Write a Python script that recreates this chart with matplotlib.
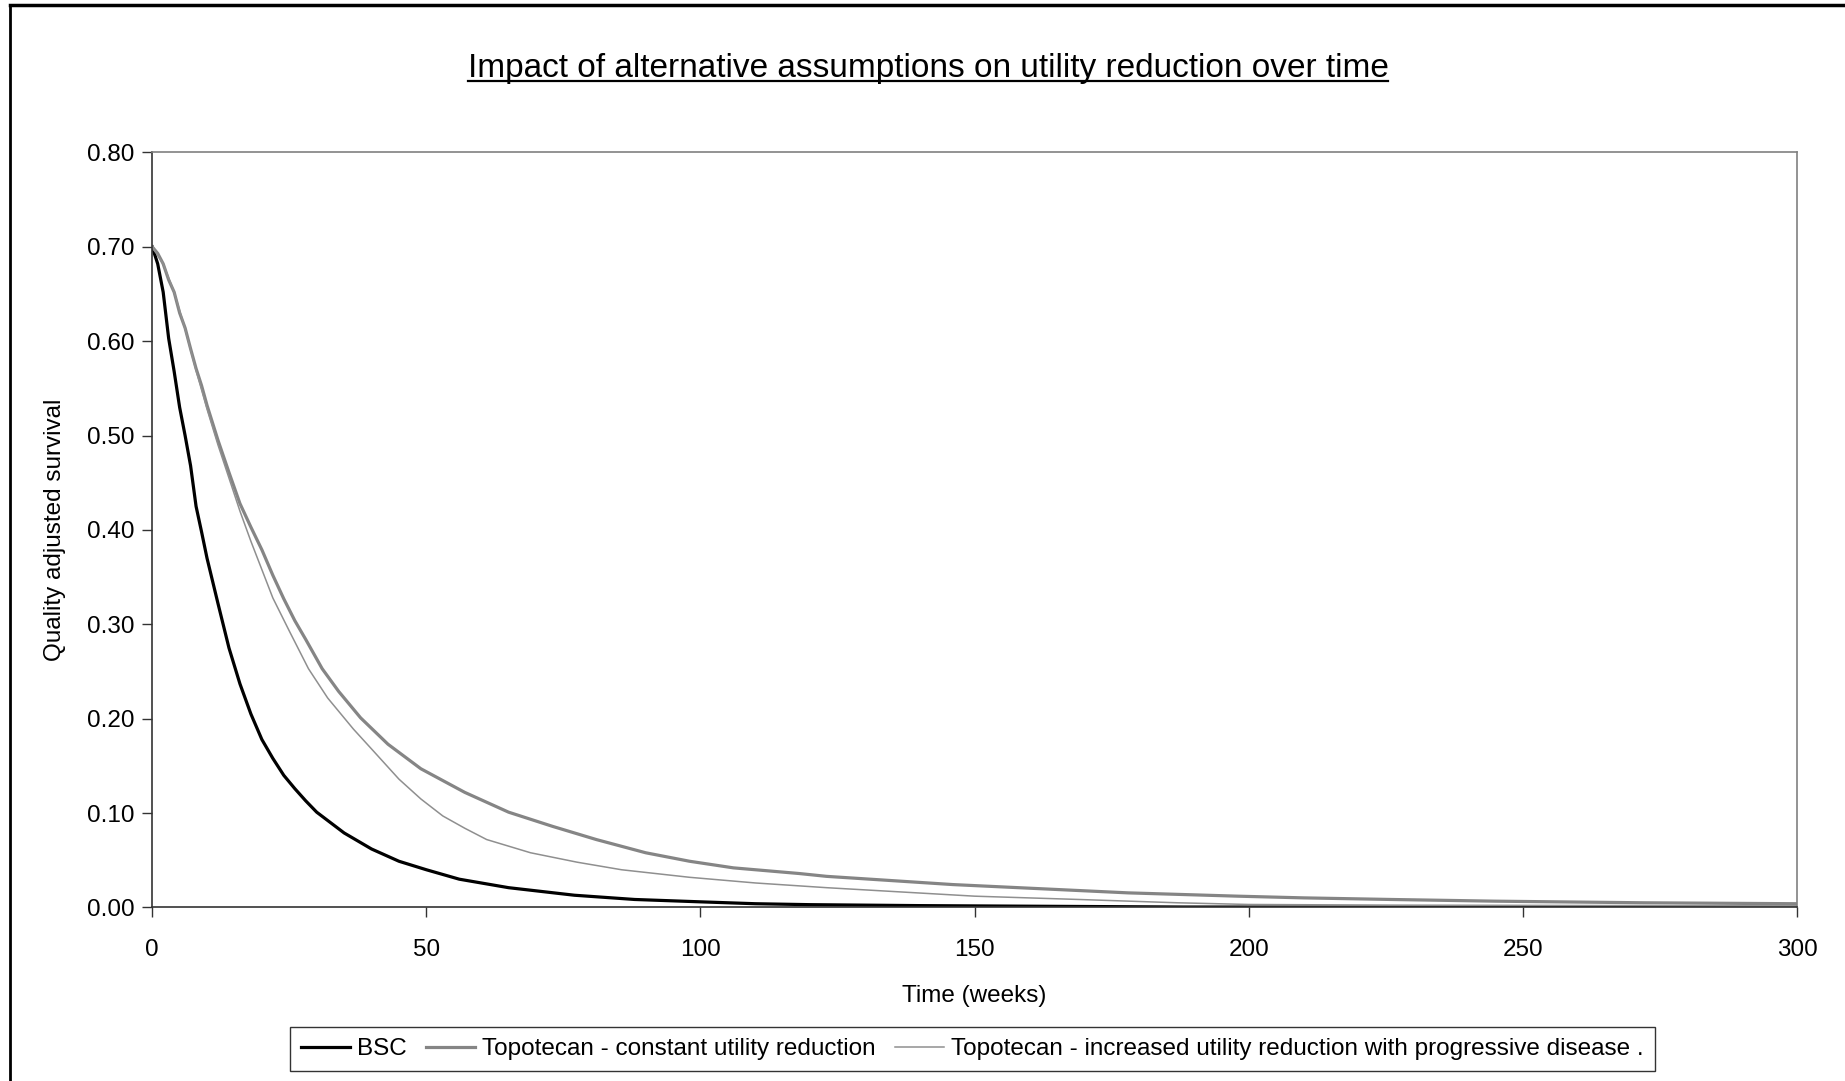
import matplotlib
matplotlib.use("Agg")
import matplotlib.pyplot as plt
from matplotlib.lines import Line2D

plt.rcParams['font.family'] = ['Liberation Sans', 'DejaVu Sans']

# quality adjusted survival by week, three scenarios
bsc_weeks = [0, 1, 2, 3, 4, 5, 6, 7, 8, 9, 10, 12, 14, 16, 18, 20, 22, 24, 26, 28, 30,
             35, 40, 45, 50, 56, 65, 77, 88, 100, 110, 120, 140, 188, 300]
bsc_qas = [0.700, 0.682, 0.652, 0.603, 0.568, 0.530, 0.500, 0.468, 0.425, 0.398, 0.370,
           0.322, 0.275, 0.237, 0.205, 0.178, 0.158, 0.140, 0.126, 0.113, 0.101,
           0.079, 0.062, 0.049, 0.040, 0.030, 0.021, 0.013, 0.0085, 0.006, 0.004,
           0.003, 0.002, 0.0005, 0.0003]

const_weeks = [0, 1, 2, 3, 4, 5, 6, 7, 8, 9, 10, 12, 14, 16, 18, 20, 22, 24, 26, 28, 31,
               34, 38, 43, 49, 57, 65, 73, 81, 90, 98, 106, 118, 123, 146, 178, 198,
               210, 226, 245, 272, 300]
const_qas = [0.700, 0.693, 0.682, 0.665, 0.652, 0.630, 0.614, 0.592, 0.571, 0.553, 0.532,
             0.495, 0.461, 0.428, 0.403, 0.379, 0.352, 0.327, 0.304, 0.284, 0.253,
             0.229, 0.201, 0.173, 0.147, 0.122, 0.101, 0.086, 0.072, 0.058, 0.049,
             0.042, 0.036, 0.033, 0.0243, 0.0155, 0.012, 0.0102, 0.0085, 0.0067,
             0.005, 0.004]

prog_weeks = [0, 2, 4, 6, 8, 10, 12, 14, 16, 18, 20, 22, 25, 28.5, 32, 36.7, 40, 45, 49,
              53, 57, 61, 69, 77.5, 85.6, 98, 110, 123, 150, 169, 187, 200, 226, 272, 300]
prog_qas = [0.700, 0.682, 0.652, 0.613, 0.569, 0.528, 0.490, 0.455, 0.420, 0.388, 0.358,
            0.328, 0.293, 0.253, 0.222, 0.189, 0.168, 0.136, 0.115, 0.097, 0.084, 0.072,
            0.058, 0.048, 0.040, 0.032, 0.026, 0.021, 0.012, 0.0085, 0.005, 0.0032,
            0.0025, 0.002, 0.001]

y_ticks = [0.0, 0.1, 0.2, 0.3, 0.4, 0.5, 0.6, 0.7, 0.8]
x_ticks = [0, 50, 100, 150, 200, 250, 300]

fig = plt.figure(figsize=(18.45, 10.81), dpi=100)
ax = fig.add_axes([0.0825, 0.1605, 0.8915, 0.6985])

ax.plot(bsc_weeks, bsc_qas, color='black', lw=2.3, label='BSC')
ax.plot(const_weeks, const_qas, color='#858585', lw=2.3,
        label='Topotecan - constant utility reduction')
ax.plot(prog_weeks, prog_qas, color='#8f8f8f', lw=1.1,
        label='Topotecan - increased utility reduction with progressive disease .')

ax.set_xlim(0, 300)
ax.set_ylim(0, 0.8)
ax.set_xticks(x_ticks)
ax.set_yticks(y_ticks)
ax.set_yticklabels([f'{v:.2f}' for v in y_ticks])
ax.tick_params(axis='both', direction='out', length=7, width=1, labelsize=17.5,
               color='#333333')
ax.tick_params(axis='x', pad=16)
ax.tick_params(axis='y', pad=6)

for side in ['top', 'right']:
    ax.spines[side].set_color('#808080')
for side in ['left', 'bottom']:
    ax.spines[side].set_color('#333333')
for s in ax.spines.values():
    s.set_linewidth(1.2)

ax.set_xlabel('Time (weeks)', fontsize=17.5)
ax.set_ylabel('Quality adjusted survival', fontsize=17.5)
ax.yaxis.set_label_coords(-0.0525, 0.5)
ax.xaxis.set_label_coords(0.5, -0.102)

# title with an underline drawn beneath it
title = fig.text(0.503, 0.937, 'Impact of alternative assumptions on utility reduction over time',
                 ha='center', va='center', fontsize=24)
fig.canvas.draw()
bb = title.get_window_extent(renderer=fig.canvas.get_renderer())
uy = (bb.y0 + 3) / fig.bbox.height
fig.add_artist(Line2D([bb.x0 / fig.bbox.width, bb.x1 / fig.bbox.width], [uy, uy],
                      transform=fig.transFigure, color='black', lw=1.6))

leg = fig.legend(loc='center', bbox_to_anchor=(0.527, 0.0296), ncol=3, fontsize=17.5,
                 frameon=True, fancybox=False, edgecolor='black', handlelength=2.0,
                 handletextpad=0.3, columnspacing=0.8, borderpad=0.45)
leg.get_frame().set_linewidth(1.0)

# outer frame on the left and top edges
fig.add_artist(Line2D([0.0055, 0.0055], [0, 0.995], transform=fig.transFigure,
                      color='black', lw=2))
fig.add_artist(Line2D([0.0055, 1.0], [0.995, 0.995], transform=fig.transFigure,
                      color='black', lw=2.5))

fig.savefig('out.png', dpi=100)
